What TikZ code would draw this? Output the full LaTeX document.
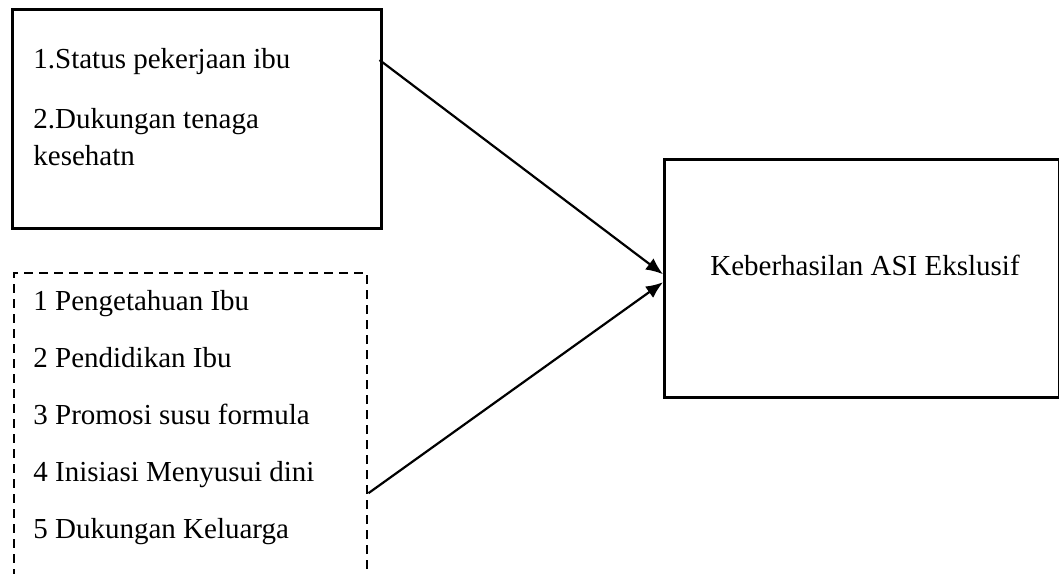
\documentclass[tikz,border=0pt]{standalone}
\usepackage{fontspec}
\setmainfont{Liberation Serif}
\usetikzlibrary{arrows.meta}
\tikzstyle{box} = [rectangle, draw, line width=1.25pt, inner sep=0pt]
\tikzstyle{dashbox} = [box, line width=1.2pt, dash pattern=on 4.5pt off 3pt]
\tikzstyle{txt} = [inner sep=0pt, align=left, font=\fontsize{14.5}{18.5}\selectfont]
\tikzstyle{pijl} = [draw, line width=1.1pt, -{Latex[length=8.5pt,width=7pt]}]

\begin{document}
\begin{tikzpicture}[x=0.5pt, y=-0.5pt]
	\useasboundingbox (0,0) rectangle (1059,573);
	\clip (0,0) rectangle (1059,573);
	
	\node [box, minimum width=184.5pt, minimum height=109.5pt, anchor=north west] (factors) at (11,8) {};
	\node [txt, anchor=base west] (factorstext) at (33,165) {1.Status pekerjaan ibu\\[11.5pt] 2.Dukungan tenaga\\ kesehatn};
	
	
	\node [dashbox, minimum width=176.5pt, minimum height=174pt, anchor=north west] (others) at (13,272) {};
	\node [txt, anchor=base west, font=\fontsize{14.5}{28.5}\selectfont] (otherstext) at (33,538) {1 Pengetahuan Ibu\\ 2 Pendidikan Ibu\\ 3 Promosi susu formula\\ 4 Inisiasi Menyusui dini\\ 5 Dukungan Keluarga};
	
	
	\node [box, minimum width=197.5pt, minimum height=119pt, anchor=north west] (asi) at (663,158) {};
	\node [txt, anchor=base] (asitext) at (865,275) {Keberhasilan ASI Ekslusif};
	
	
	\path [pijl] ([xshift=-1.5pt, yshift=-26pt]factors.north east) -- ([yshift=2pt]asi.west);
	\path [pijl] ([yshift=-23pt]others.east) -- ([yshift=-2pt]asi.west);
\end{tikzpicture}
\end{document}
